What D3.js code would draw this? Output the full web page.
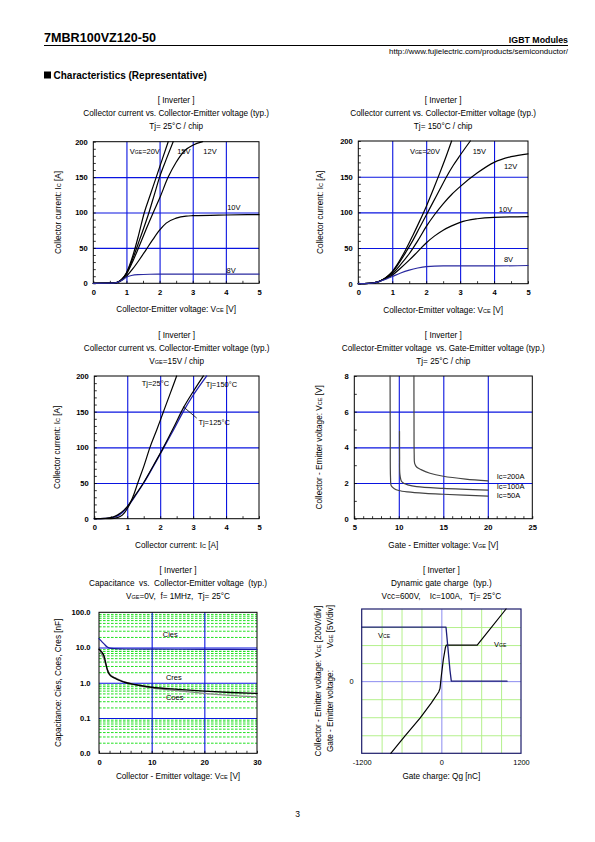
<!DOCTYPE html>
<html><head><meta charset="utf-8">
<script src="https://cdn.jsdelivr.net/npm/d3@7"></script>
<style>
body{margin:0;background:#fff;}
svg text{font-family:"Liberation Sans",Arial,Helvetica,sans-serif;white-space:pre;}
</style></head><body>
<script>
// ---------------- DATA ----------------
// Chart 1: Ic vs Vce, Tj=25C  ([Vce, Ic])
const t25_vge20 = [[0,0],[0.5,0.2],[0.7,1],[0.85,5],[1.0,15],[1.2,40],[1.35,65],[1.54,100],[1.72,125],[1.9,150],[2.08,175],[2.26,200]];
const t25_vge15 = [[0,0],[0.5,0.2],[0.7,1],[0.85,5],[1.0,14],[1.2,36],[1.4,62],[1.68,100],[1.84,125],[2.0,150],[2.2,175],[2.41,200]];
const t25_vge12 = [[0,0],[0.5,0.2],[0.7,1],[0.85,5],[1.0,13],[1.2,32],[1.4,54],[1.6,77],[1.81,100],[2.0,120],[2.26,150],[2.5,171],[2.77,188],[3.0,195],[3.3,200]];
const t25_vge10 = [[0,0],[0.5,0.2],[0.7,1],[0.85,4],[1.0,10],[1.2,21],[1.4,34],[1.6,48],[1.8,62],[2.0,75],[2.2,85],[2.5,92],[2.8,95],[3.0,95.5],[4.0,96.5],[5.0,97]];
const t25_vge8  = [[0,0],[0.5,0.2],[0.7,1],[0.85,4],[1.0,8.5],[1.15,11],[1.35,12.3],[1.7,12.8],[2.5,13],[3.5,13],[5.0,13]];
const c1Labels = [["V",["GE","=20V"]],["15V"],["12V"],["10V"],["8V"]];
const c1LabelPos = [[1.1,183],[2.53,183],[3.32,183],[4.04,104],[4.02,15]];

// Chart 2: Ic vs Vce, Tj=150C
const t150_vge20 = [[0,0],[0.3,0.4],[0.5,1.5],[0.7,5],[0.85,10],[1.0,17],[1.2,31],[1.4,48],[1.6,67],[1.8,87],[2.0,108],[2.2,131],[2.4,155],[2.6,180],[2.75,200]];
const t150_vge15 = [[0,0],[0.3,0.4],[0.5,1.5],[0.7,5],[0.85,10],[1.0,16],[1.2,29],[1.4,44],[1.6,60],[1.8,78],[2.0,96],[2.2,114],[2.4,132],[2.6,150],[2.8,166],[3.0,180],[3.3,200]];
const t150_vge12 = [[0,0],[0.3,0.4],[0.5,1.5],[0.7,5],[0.85,9],[1.0,14],[1.25,27],[1.5,42],[1.75,60],[2.0,80],[2.25,97],[2.5,112],[2.75,125],[3.0,136],[3.5,155],[4.0,170],[4.5,178],[5.0,182]];
const t150_vge10 = [[0,0],[0.3,0.4],[0.5,1.5],[0.7,5],[0.85,8],[1.0,12],[1.25,22],[1.5,33],[1.75,45],[2.0,57],[2.25,67],[2.5,75],[2.75,81],[3.0,86],[3.5,91],[4.0,93],[5.0,94]];
const t150_vge8  = [[0,0],[0.3,0.4],[0.5,1.5],[0.7,4.5],[0.85,7],[1.0,10],[1.25,15],[1.5,19],[1.75,22],[2.0,24],[2.5,25],[3.0,25],[4.0,25],[5.0,25.5]];
const c2Labels = [["V",["GE","=20V"]],["15V"],["12V"],["10V"],["8V"]];
const c2LabelPos = [[1.52,182],[3.37,182],[4.29,161],[4.14,101],[4.29,30]];

// Chart 3: Ic vs Vce, VGE=15V, per Tj
const vge15_t25  = [[0,0],[0.5,0.2],[0.7,1.5],[0.85,5],[1.0,14],[1.2,34],[1.32,50],[1.5,73],[1.69,100],[1.9,125],[2.1,150],[2.3,175],[2.5,200]];
const vge15_t150 = [[0,0],[0.3,0.5],[0.5,1.5],[0.7,5],[0.9,12],[1.0,17],[1.2,30],[1.49,50],[1.8,75],[2.1,100],[2.4,127],[2.7,155],[3.0,178],[3.31,200]];
const vge15_t125 = [[0,0],[0.35,0.5],[0.55,1.5],[0.75,5],[0.95,13],[1.0,16],[1.2,29],[1.5,50],[1.8,74],[2.1,99],[2.4,124],[2.7,150],[3.0,173],[3.41,200]];
const c3Labels = ["Tj=25°C","Tj=150°C","Tj=125°C"];
const c3LabelPos = [[1.44,186],[3.38,184],[3.16,132]];
const c3Leader = [[2.70,157],[3.11,141]];

// Chart 4: Vce vs Vge, Tj=25C  ([Vge, Vce])
const ic200 = [[11.7,8],[11.71,5.5],[11.73,3.6],[11.78,3.1],[12.0,2.9],[12.5,2.75],[13.5,2.55],[15,2.38],[17.5,2.22],[20,2.12]];
const ic100 = [[10.08,4.9],[10.09,3.5],[10.12,2.5],[10.3,2.1],[10.6,1.97],[11,1.9],[12,1.8],[15,1.7],[20,1.6]];
const ic50  = [[9.02,8],[9.04,4.5],[9.07,2.3],[9.15,1.85],[9.5,1.68],[10,1.58],[11,1.5],[13,1.42],[15,1.37],[20,1.27]];
const c4Labels = ["Ic=200A","Ic=100A","Ic=50A"];
const c4LabelPos = [[21.0,2.2],[21.0,1.65],[21.0,1.15]];

// Chart 5: Capacitance vs Vce ([Vce, nF])
const cies = [[0,18],[0.5,15],[1,12.5],[1.5,10.5],[2,9.6],[3,9.3],[5,9.1],[10,9.0],[20,8.9],[30,8.8]];
const cres = [[0,9],[0.5,7.5],[1,5.5],[1.3,3.5],[1.6,2.3],[2,1.7],[3,1.35],[4,1.15],[5,1.02],[7,0.88],[10,0.75],[15,0.65],[20,0.58],[25,0.53],[30,0.5]];
const coes = [[0,8],[0.5,6.5],[1,4.5],[1.5,2.6],[2,1.8],[3,1.4],[4,1.2],[5,1.05],[7,0.88],[10,0.72],[15,0.6],[20,0.5],[25,0.44],[30,0.4]];
const c5Labels = ["Cies","Cres","Coes"];
const c5LabelPos = [[12.1,19.3],[12.7,1.22],[12.7,0.33]];

// Chart 6: Dynamic gate charge ([Qg nC, divisions])
const vceDiv = [[-1200,3],[70,3],[100,1.8],[130,0.6],[150,0],[990,0]];
const vgeDiv = [[-762,-4],[-550,-3.05],[-321,-2.05],[-150,-1.2],[-40,-0.6],[-20,-0.4],[0,0.3],[30,1.2],[60,1.85],[75,2],[540,2],[975,4]];
const c6LabelPos = [[-955,2.37],[793,1.92]];

// tick values
const ticksIc = [0,50,100,150,200];
const ticksVce5 = [0,1,2,3,4,5];
const ticksVge = [5,10,15,20,25];
const ticksVce8 = [0,2,4,6,8];
const ticksCapX = [0,10,20,30];
const ticksCapY = [0.01,0.1,1,10,100];
const ticksQg = [-1200,0,1200];
const ticksDiv = [0];

// ---------------- DRAWING ----------------
const FONT = '"Liberation Sans",Arial,Helvetica,sans-serif';
const svg = d3.select('body').append('svg').attr('width',595).attr('height',842);
const BLUE = '#0a14e0';
const TITLE_FS = 8.2, AXT_FS = 8.2, TICK_FS = 7.6, LBL_FS = 7.5;

function rich(sel, parts, size){
  parts.forEach(p=>{
    if(typeof p==='string'){ sel.append('tspan').text(p).attr('font-size',size); }
    else { sel.append('tspan').text(p[0]).attr('font-size',size);
           sel.append('tspan').text(p[1][0]).attr('font-size',size*0.68);
           sel.append('tspan').text(p[1][1]).attr('font-size',size); }
  });
  return sel;
}

function styleAxis(s, fs, bold){
  s.select('.domain').remove();
  s.attr('font-family',FONT).attr('font-size',fs).attr('font-weight',bold?'bold':'normal');
  s.selectAll('text').attr('fill','#000');
}

function panel(c){
  const g = svg.append('g');
  const x = (c.xLog?d3.scaleLog():d3.scaleLinear()).domain(c.xDomain).range([c.left,c.right]);
  const y = (c.yLog?d3.scaleLog():d3.scaleLinear()).domain(c.yDomain).range([c.bottom,c.top]);
  const w = c.right-c.left, h = c.bottom-c.top;
  const grid = (vals, len, color, width, dash, isY) => {
    if(!vals||!vals.length) return;
    const a = (isY?d3.axisLeft(y):d3.axisBottom(x)).tickValues(vals).tickSize(-len).tickFormat('');
    g.append('g').attr('transform', isY?`translate(${c.left},0)`:`translate(0,${c.bottom})`).call(a)
      .call(s=>{s.select('.domain').remove(); s.selectAll('line').attr('stroke',color).attr('stroke-width',width).attr('stroke-dasharray',dash||null);});
  };
  grid(c.yMinorGrid,w,c.minorColor,c.minorWidth||1,c.minorDash,true);
  grid(c.xMinorGrid,h,c.minorColor,c.minorWidth||1,c.minorDash,false);
  grid(c.yGrid,w,c.gridColor,c.gridWidth||1.1,null,true);
  grid(c.xGrid,h,c.gridColor,c.gridWidth||1.1,null,false);
  if(c.yMinorTicks){
    g.append('g').attr('transform',`translate(${c.left},0)`).call(d3.axisLeft(y).tickValues(c.yMinorTicks).tickSize(-2.5).tickFormat(''))
     .call(s=>{s.select('.domain').remove(); s.selectAll('line').attr('stroke','#000').attr('stroke-width',0.8);});
  }
  if(c.xMinorTicks){
    g.append('g').attr('transform',`translate(0,${c.bottom})`).call(d3.axisBottom(x).tickValues(c.xMinorTicks).tickSize(-2.5).tickFormat(''))
     .call(s=>{s.select('.domain').remove(); s.selectAll('line').attr('stroke','#000').attr('stroke-width',0.8);});
  }
  g.append('rect').attr('x',c.left).attr('y',c.top).attr('width',w).attr('height',h)
    .attr('fill','none').attr('stroke',c.frameColor||'#000').attr('stroke-width',c.frameWidth||1);
  g.append('g').attr('transform',`translate(${c.left},0)`)
    .call(d3.axisLeft(y).tickValues(c.yTicks).tickFormat(c.yFmt||(d=>d)).tickSize(0).tickPadding(c.yPad||5.5))
    .call(s=>{styleAxis(s,c.tickFs||TICK_FS,c.tickBold!==false); s.selectAll('line').remove();});
  g.append('g').attr('transform',`translate(0,${c.bottom})`)
    .call(d3.axisBottom(x).tickValues(c.xTicks).tickFormat(c.xFmt||(d=>d)).tickSize(0).tickPadding(c.xPad||6))
    .call(s=>{styleAxis(s,c.tickFs||TICK_FS,c.tickBold!==false); s.selectAll('line').remove();});
  const cx = (c.left+c.right)/2;
  c.title.forEach((t,i)=>{
    const tx = g.append('text').attr('x',cx).attr('y',c.titleY[i]).attr('text-anchor','middle').attr('fill','#000');
    rich(tx, t, TITLE_FS);
  });
  rich(g.append('text').attr('x',cx).attr('y',c.bottom+c.xTitleDy).attr('text-anchor','middle'), c.xTitle, AXT_FS);
  if(c.yTitle){
    const cy=(c.top+c.bottom)/2, yx=c.left+c.yTitleDx;
    rich(g.append('text').attr('transform',`translate(${yx},${cy}) rotate(-90)`).attr('text-anchor','middle'), c.yTitle, AXT_FS);
  }
  return {g,x,y};
}

function curve(p, data, color, width, crv){
  const line = d3.line().x(d=>p.x(d[0])).y(d=>p.y(d[1])).curve(crv||d3.curveMonotoneX);
  p.g.append('path').attr('d',line(data)).attr('fill','none').attr('stroke',color).attr('stroke-width',width||1.2)
    .attr('stroke-linejoin','round').attr('stroke-linecap','round');
}
function label(p, pos, parts, fs, anchor){
  const t = p.g.append('text').attr('x',p.x(pos[0])).attr('y',p.y(pos[1])).attr('text-anchor',anchor||'start').attr('fill','#000');
  rich(t, parts, fs||LBL_FS);
}

// ---- page header ----
svg.append('text').attr('x',44).attr('y',42).attr('font-size',12.6).attr('font-weight','bold').text('7MBR100VZ120-50');
svg.append('line').attr('x1',44).attr('x2',568).attr('y1',45.5).attr('y2',45.5).attr('stroke','#000').attr('stroke-width',1);
svg.append('text').attr('x',568).attr('y',43).attr('font-size',8.8).attr('font-weight','bold').attr('text-anchor','end').text('IGBT Modules');
svg.append('text').attr('x',568).attr('y',54).attr('font-size',7.9).attr('text-anchor','end').text('http://www.fujielectric.com/products/semiconductor/');
svg.append('rect').attr('x',44).attr('y',71.5).attr('width',7).attr('height',7).attr('fill','#000');
svg.append('text').attr('x',53.5).attr('y',78.5).attr('font-size',10).attr('font-weight','bold').text('Characteristics (Representative)');
svg.append('text').attr('x',297.5).attr('y',817).attr('font-size',8.5).attr('text-anchor','middle').text('3');

const range = (a,b,s)=>d3.range(a,b+1e-9,s);
const titleOff = t=>[t-38.5,t-25.5,t-12.5];

// ---- Chart 1 ----
const p1 = panel({left:93.3,right:259,top:141.7,bottom:283.3,xDomain:[0,5],yDomain:[0,200],
  xTicks:ticksVce5,yTicks:ticksIc,xGrid:[1,2,3,4],yGrid:[50,100,150],gridColor:BLUE,
  yMinorTicks:range(0,200,10),xMinorTicks:range(0,5,0.5),
  title:[["[ Inverter ]"],["Collector current vs. Collector-Emitter voltage (typ.)"],["Tj= 25°C / chip"]],
  titleY:titleOff(141.7),xTitle:["Collector-Emitter voltage: ",["V",["CE"," [V]"]]],xTitleDy:29,
  yTitle:["Collector current: ",["I",["C"," [A]"]]],yTitleDx:-32});
[t25_vge20,t25_vge15,t25_vge12,t25_vge10].forEach(d=>curve(p1,d,'#000',1.2));
curve(p1,t25_vge8,'#2a2aa0',1.2);
c1Labels.forEach((l,i)=>label(p1,c1LabelPos[i],l.length===1?[l[0]]:[[l[0],l[1]]]));

// ---- Chart 2 ----
const p2 = panel({left:358.3,right:528,top:141,bottom:283.7,xDomain:[0,5],yDomain:[0,200],
  xTicks:ticksVce5,yTicks:ticksIc,xGrid:[1,2,3,4],yGrid:[50,100,150],gridColor:BLUE,
  yMinorTicks:range(0,200,10),xMinorTicks:range(0,5,0.5),
  title:[["[ Inverter ]"],["Collector current vs. Collector-Emitter voltage (typ.)"],["Tj= 150°C / chip"]],
  titleY:titleOff(141),xTitle:["Collector-Emitter voltage: ",["V",["CE"," [V]"]]],xTitleDy:29,
  yTitle:["Collector current: ",["I",["C"," [A]"]]],yTitleDx:-35});
[t150_vge20,t150_vge15,t150_vge12,t150_vge10].forEach(d=>curve(p2,d,'#000',1.2));
curve(p2,t150_vge8,'#2a2aa0',1.2);
c2Labels.forEach((l,i)=>label(p2,c2LabelPos[i],l.length===1?[l[0]]:[[l[0],l[1]]]));

// ---- Chart 3 ----
const p3 = panel({left:94.3,right:259,top:376,bottom:518.7,xDomain:[0,5],yDomain:[0,200],
  xTicks:ticksVce5,yTicks:ticksIc,xGrid:[1,2,3,4],yGrid:[50,100,150],gridColor:BLUE,
  yMinorTicks:range(0,200,10),xMinorTicks:range(0,5,0.5),
  title:[["[ Inverter ]"],["Collector current vs. Collector-Emitter voltage (typ.)"],[["V",["GE","=15V / chip"]]]],
  titleY:titleOff(376),xTitle:["Collector current: ",["I",["C"," [A]"]]],xTitleDy:29,
  yTitle:["Collector current: ",["I",["C"," [A]"]]],yTitleDx:-34});
curve(p3,vge15_t125,'#2020b0',1.3);
curve(p3,vge15_t150,'#000',1.2);
curve(p3,vge15_t25,'#000',1.2);
c3Labels.forEach((l,i)=>label(p3,c3LabelPos[i],[l]));
p3.g.append('line').attr('x1',p3.x(c3Leader[0][0])).attr('y1',p3.y(c3Leader[0][1])).attr('x2',p3.x(c3Leader[1][0])).attr('y2',p3.y(c3Leader[1][1])).attr('stroke','#000').attr('stroke-width',0.8);

// ---- Chart 4 ----
const p4 = panel({left:354.3,right:532.3,top:376,bottom:518.7,xDomain:[5,25],yDomain:[0,8],
  xTicks:ticksVge,yTicks:ticksVce8,xGrid:[10,15,20],yGrid:[2,4,6],gridColor:BLUE,
  yMinorTicks:range(0,8,1),xMinorTicks:range(5,25,1),
  title:[["[ Inverter ]"],["Collector-Emitter voltage  vs. Gate-Emitter voltage (typ.)"],["Tj= 25°C / chip"]],
  titleY:titleOff(376),xTitle:["Gate - Emitter voltage: ",["V",["GE"," [V]"]]],xTitleDy:29,
  yTitle:["Collector - Emitter voltage: ",["V",["CE"," [V]"]]],yTitleDx:-32});
[ic200,ic100,ic50].forEach(d=>curve(p4,d,'#444',1.2,d3.curveCatmullRom.alpha(0.5)));
c4Labels.forEach((l,i)=>label(p4,c4LabelPos[i],[l]));

// ---- Chart 5 ----
const minorCap = [];
[0.01,0.1,1,10].forEach(d=>{for(let k=2;k<=9;k++) minorCap.push(d*k);});
const p5 = panel({left:99,right:257,top:612.3,bottom:753.3,xDomain:[0,30],yDomain:[0.01,100],yLog:true,
  xTicks:ticksCapX,yTicks:ticksCapY,yFmt:d=>d3.format('.1f')(d),xGrid:[10,20],yGrid:[0.1,1,10],gridColor:BLUE,
  yMinorGrid:minorCap,minorColor:'#22e022',minorDash:'2.6,1.4',minorWidth:1,
  xMinorTicks:range(0,30,2),yPad:8.5,
  title:[["[ Inverter ]"],["Capacitance  vs.  Collector-Emitter voltage  (typ.)"],[["V",["GE","=0V,  f= 1MHz,  Tj= 25°C"]]]],
  titleY:[572.5,585.5,598.5],xTitle:["Collector - Emitter voltage: ",["V",["CE"," [V]"]]],xTitleDy:26,
  yTitle:["Capacitance: Cies, Coes, Cres [nF]"],yTitleDx:-38});
curve(p5,cies,'#1a1aa0',1.2);
curve(p5,coes,'#888',1.3);
curve(p5,cres,'#000',1.4);
c5Labels.forEach((l,i)=>label(p5,c5LabelPos[i],[l]));

// ---- Chart 6 ----
const p6 = panel({left:361.7,right:521,top:609,bottom:753.3,xDomain:[-1200,1200],yDomain:[-4,4],
  xTicks:ticksQg,yTicks:ticksDiv,xGrid:[0],yGrid:[0],gridColor:'#8c8cf0',gridWidth:1,
  xMinorGrid:[-900,-600,-300,300,600,900],yMinorGrid:[-3,-2,-1,1,2,3],minorColor:'#b4f08c',minorWidth:1,
  frameColor:'#1c1c6a',frameWidth:1.2,yPad:8,tickBold:false,tickFs:7.4,
  title:[["[ Inverter ]"],["Dynamic gate charge  (typ.)"],["Vcc=600V,    Ic=100A,   Tj= 25°C"]],
  titleY:[572.5,585.5,598.5],xTitle:["Gate charge: Qg [nC]"],xTitleDy:26});
curve(p6,vgeDiv,'#000',1.2,d3.curveLinear);
curve(p6,vceDiv,'#1c1c7a',1.3,d3.curveLinear);
label(p6,c6LabelPos[0],[["V",["CE",""]]]);
label(p6,c6LabelPos[1],[["V",["GE",""]]]);
rich(p6.g.append('text').attr('transform',`translate(321,${(609+753.3)/2}) rotate(-90)`).attr('text-anchor','middle'),
  ["Collector - Emitter voltage: ",["V",["CE"," [200V/div]"]]],AXT_FS);
rich(p6.g.append('text').attr('transform',`translate(333,752) rotate(-90)`).attr('text-anchor','start'),
  ["Gate - Emitter voltage:"],AXT_FS);
rich(p6.g.append('text').attr('transform',`translate(333,605) rotate(-90)`).attr('text-anchor','end'),
  [["V",["GE"," [5V/div]"]]],AXT_FS);
</script>
</body></html>
